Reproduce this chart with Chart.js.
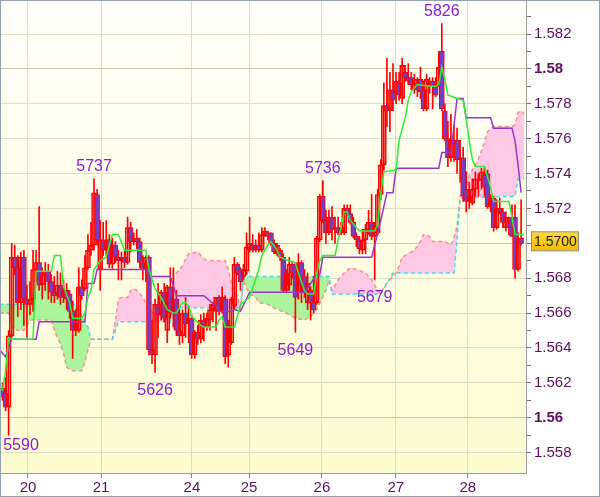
<!DOCTYPE html>
<html>
<head>
<meta charset="utf-8">
<script src="https://cdn.jsdelivr.net/npm/chart.js@4.4.0/dist/chart.umd.min.js"></script>
<style>
  html, body { margin: 0; padding: 0; background: #fff; }
</style>
</head>
<body>
<canvas id="myChart" width="600" height="497"></canvas>
<script>
// hourly bars, index 0 = first bar on the left
const openP = [
  1.5617,1.5614,1.5606,1.5647,1.5692,1.5686,1.5666,1.5692,1.5668,1.5665,
  1.5668,1.5685,1.5689,1.5676,1.5682,1.5684,1.5678,1.5672,1.5670,1.5676,
  1.5669,1.5673,1.5671,1.5661,1.5650,1.5650,1.5675,1.5674,1.5686,1.5696,
  1.5699,1.5728,1.5685,1.5702,1.5696,1.5702,1.5688,1.5699,1.5692,1.5690,
  1.5692,1.5689,1.5709,1.5701,1.5703,1.5701,1.5689,1.5685,1.5692,1.5639,
  1.5636,1.5665,1.5659,1.5672,1.5650,1.5675,1.5660,1.5668,1.5650,1.5647,
  1.5660,1.5654,1.5657,1.5636,1.5649,1.5645,1.5656,1.5652,1.5656,1.5662,
  1.5661,1.5669,1.5661,1.5668,1.5636,1.5643,1.5664,1.5688,1.5685,1.5681,
  1.5684,1.5696,1.5699,1.5696,1.5699,1.5696,1.5705,1.5706,1.5706,1.5700,
  1.5694,1.5696,1.5692,1.5673,1.5676,1.5688,1.5688,1.5672,1.5689,1.5681,
  1.5666,1.5673,1.5666,1.5666,1.5702,1.5727,1.5713,1.5706,1.5715,1.5708,
  1.5709,1.5706,1.5706,1.5720,1.5717,1.5712,1.5704,1.5702,1.5696,1.5702,
  1.5706,1.5712,1.5704,1.5706,1.5728,1.5745,1.5779,1.5776,1.5788,1.5786,
  1.5792,1.5783,1.5798,1.5795,1.5795,1.5788,1.5792,1.5794,1.5788,1.5777,
  1.5791,1.5793,1.5791,1.5790,1.5810,1.5776,1.5760,1.5749,1.5759,1.5759,
  1.5748,1.5749,1.5731,1.5724,1.5723,1.5731,1.5737,1.5736,1.5739,1.5740,
  1.5721,1.5726,1.5709,1.5720,1.5718,1.5709,1.5712,1.5715,1.5715,1.5685,
  1.5703
];
const highP = [
  1.5620,1.5623,1.5650,1.5700,1.5699,1.5693,1.5695,1.5696,1.5676,1.5678,
  1.5696,1.5696,1.5721,1.5686,1.5689,1.5688,1.5682,1.5681,1.5684,1.5683,
  1.5679,1.5677,1.5673,1.5667,1.5662,1.5686,1.5679,1.5693,1.5705,1.5712,
  1.5737,1.5731,1.5713,1.5712,1.5713,1.5705,1.5703,1.5701,1.5696,1.5695,
  1.5696,1.5715,1.5712,1.5706,1.5708,1.5703,1.5693,1.5693,1.5693,1.5656,
  1.5668,1.5677,1.5673,1.5677,1.5676,1.5686,1.5686,1.5673,1.5662,1.5662,
  1.5669,1.5664,1.5659,1.5650,1.5653,1.5659,1.5660,1.5660,1.5665,1.5666,
  1.5669,1.5670,1.5675,1.5670,1.5656,1.5669,1.5692,1.5689,1.5686,1.5688,
  1.5706,1.5715,1.5705,1.5702,1.5706,1.5709,1.5709,1.5707,1.5706,1.5702,
  1.5700,1.5697,1.5694,1.5685,1.5692,1.5689,1.5689,1.5694,1.5690,1.5685,
  1.5683,1.5675,1.5681,1.5704,1.5728,1.5736,1.5719,1.5719,1.5721,1.5715,
  1.5715,1.5712,1.5722,1.5722,1.5722,1.5715,1.5706,1.5704,1.5708,1.5711,
  1.5719,1.5728,1.5712,1.5731,1.5748,1.5792,1.5806,1.5798,1.5803,1.5798,
  1.5798,1.5806,1.5802,1.5803,1.5798,1.5797,1.5795,1.5801,1.5793,1.5797,
  1.5795,1.5795,1.5795,1.5810,1.5826,1.5780,1.5770,1.5774,1.5768,1.5766,
  1.5759,1.5755,1.5741,1.5735,1.5737,1.5741,1.5740,1.5743,1.5743,1.5742,
  1.5728,1.5727,1.5725,1.5726,1.5720,1.5718,1.5715,1.5722,1.5722,1.5706,
  1.5725
];
const lowP = [
  1.5610,1.5604,1.5590,1.5646,1.5682,1.5658,1.5662,1.5653,1.5646,1.5659,
  1.5661,1.5678,1.5673,1.5668,1.5673,1.5668,1.5666,1.5666,1.5668,1.5665,
  1.5666,1.5662,1.5657,1.5634,1.5647,1.5649,1.5668,1.5673,1.5685,1.5693,
  1.5696,1.5699,1.5673,1.5693,1.5693,1.5686,1.5685,1.5689,1.5679,1.5679,
  1.5686,1.5688,1.5695,1.5699,1.5697,1.5686,1.5679,1.5678,1.5636,1.5631,
  1.5626,1.5646,1.5656,1.5655,1.5643,1.5657,1.5652,1.5647,1.5642,1.5643,
  1.5646,1.5643,1.5634,1.5634,1.5642,1.5643,1.5644,1.5650,1.5650,1.5655,
  1.5650,1.5659,1.5660,1.5631,1.5629,1.5642,1.5662,1.5682,1.5673,1.5679,
  1.5682,1.5695,1.5695,1.5695,1.5695,1.5695,1.5704,1.5702,1.5699,1.5694,
  1.5693,1.5690,1.5672,1.5672,1.5673,1.5680,1.5649,1.5668,1.5666,1.5669,
  1.5662,1.5656,1.5660,1.5665,1.5701,1.5712,1.5700,1.5705,1.5702,1.5700,
  1.5705,1.5705,1.5705,1.5716,1.5711,1.5703,1.5698,1.5694,1.5694,1.5694,
  1.5705,1.5702,1.5679,1.5705,1.5725,1.5742,1.5767,1.5764,1.5776,1.5780,
  1.5782,1.5780,1.5793,1.5791,1.5788,1.5786,1.5784,1.5783,1.5776,1.5776,
  1.5786,1.5777,1.5784,1.5790,1.5776,1.5759,1.5744,1.5747,1.5747,1.5740,
  1.5735,1.5724,1.5718,1.5720,1.5722,1.5727,1.5727,1.5731,1.5727,1.5720,
  1.5718,1.5707,1.5708,1.5717,1.5709,1.5707,1.5705,1.5704,1.5680,1.5684,
  1.5699
];
const closeP = [
  1.5612,1.5606,1.5647,1.5692,1.5686,1.5666,1.5692,1.5668,1.5665,1.5668,
  1.5685,1.5689,1.5676,1.5682,1.5684,1.5678,1.5672,1.5670,1.5676,1.5669,
  1.5673,1.5668,1.5661,1.5650,1.5656,1.5675,1.5670,1.5686,1.5696,1.5699,
  1.5729,1.5702,1.5702,1.5696,1.5702,1.5688,1.5699,1.5692,1.5690,1.5692,
  1.5689,1.5709,1.5701,1.5703,1.5701,1.5689,1.5685,1.5692,1.5639,1.5636,
  1.5665,1.5659,1.5672,1.5657,1.5675,1.5660,1.5668,1.5650,1.5647,1.5660,
  1.5654,1.5657,1.5636,1.5649,1.5645,1.5656,1.5652,1.5657,1.5662,1.5665,
  1.5669,1.5661,1.5669,1.5635,1.5653,1.5668,1.5688,1.5683,1.5678,1.5685,
  1.5698,1.5700,1.5696,1.5699,1.5696,1.5705,1.5707,1.5704,1.5700,1.5695,
  1.5699,1.5692,1.5673,1.5683,1.5688,1.5683,1.5669,1.5689,1.5676,1.5672,
  1.5677,1.5666,1.5662,1.5703,1.5727,1.5713,1.5706,1.5715,1.5708,1.5709,
  1.5706,1.5709,1.5720,1.5717,1.5712,1.5704,1.5702,1.5697,1.5702,1.5708,
  1.5712,1.5704,1.5710,1.5728,1.5745,1.5779,1.5776,1.5788,1.5782,1.5793,
  1.5785,1.5802,1.5795,1.5793,1.5791,1.5794,1.5788,1.5787,1.5777,1.5794,
  1.5793,1.5790,1.5785,1.5801,1.5777,1.5760,1.5749,1.5759,1.5757,1.5748,
  1.5749,1.5727,1.5724,1.5727,1.5731,1.5737,1.5736,1.5741,1.5732,1.5721,
  1.5726,1.5709,1.5720,1.5718,1.5712,1.5715,1.5709,1.5704,1.5685,1.5703,
  1.5700
];

// indicator lines as [bar index, price] turning points
const tenkan = [
  [-1,1.5616],[0,1.5616],[1,1.5627],[2,1.5646],[3,1.5645],[10,1.5645],[11,1.5684],[16,1.5684],
  [17,1.5693],[19,1.5693],[20,1.5675],[22,1.5666],[23,1.5657],[26,1.5657],[27,1.5660],[28,1.5669],
  [29,1.5673],[30,1.5685],[32,1.5690],[34,1.5692],[35,1.5699],[36,1.5705],[38,1.5705],[40,1.5696],
  [47,1.5696],[48,1.5685],[50,1.5674],[52,1.5669],[54,1.5662],[56,1.5660],[57,1.5660],[59,1.5666],
  [60,1.5666],[61,1.5664],[62,1.5658],[65,1.5653],[66,1.5652],[70,1.5652],[71,1.5656],[72,1.5658],
  [73,1.5652],[76,1.5652],[78,1.5665],[81,1.5669],[84,1.5685],[85,1.5693],[87,1.5699],[88,1.5701],
  [90,1.5696],[91,1.5692],[94,1.5690],[96,1.5689],[97,1.5683],[99,1.5673],[100,1.5671],[102,1.5671],
  [103,1.5683],[104,1.5690],[105,1.5693],[109,1.5693],[110,1.5702],[111,1.5709],[112,1.5718],[113,1.5718],
  [114,1.5713],[116,1.5709],[117,1.5707],[122,1.5707],[123,1.5711],[124,1.5729],[125,1.5741],[129,1.5742],
  [130,1.5759],[132,1.5772],[133,1.5782],[134,1.5787],[136,1.5791],[140,1.5790],[142,1.5790],[143,1.5791],
  [144,1.5801],[145,1.5794],[146,1.5785],[149,1.5783],[151,1.5782],[152,1.5771],[153,1.5759],[154,1.5748],
  [155,1.5744],[158,1.5744],[160,1.5732],[161,1.5724],[166,1.5724],[167,1.5715],[168,1.5705],[171,1.5705]
];
const kijun = [
  [-1,1.5639],[1,1.5635],[3,1.5645],[11,1.5645],[12,1.5655],[27,1.5655],[28,1.5677],[30,1.5677],
  [31,1.5685],[47,1.5685],[49,1.5681],[55,1.5681],[57,1.5670],[66,1.5670],[70,1.5664],[71,1.5661],
  [75,1.5661],[76,1.5662],[78,1.5661],[81,1.5672],[99,1.5672],[103,1.5682],[104,1.5682],[105,1.5692],
  [121,1.5692],[122,1.5699],[124,1.5713],[126,1.5729],[128,1.5729],[129,1.5743],[143,1.5743],[144,1.5752],
  [147,1.5752],[149,1.5783],[151,1.5783],[152,1.5772],[160,1.5772],[161,1.5766],[167,1.5766],[168,1.5759],
  [169,1.5745],[170,1.5729]
];
const spanA = [
  [-1,1.5660],[2,1.5660],[3,1.5652],[5,1.5650],[7,1.5650],[9,1.5656],[16,1.5656],[17,1.5650],
  [19,1.5642],[20,1.5637],[21,1.5629],[23,1.5627],[26,1.5627],[27,1.5632],[28,1.5639],[29,1.5645],
  [36,1.5645],[37,1.5656],[38,1.5668],[39,1.5669],[41,1.5669],[42,1.5673],[43,1.5674],[44,1.5673],
  [46,1.5669],[47,1.5666],[48,1.5662],[50,1.5659],[55,1.5659],[56,1.5681],[58,1.5685],[59,1.5687],
  [60,1.5691],[61,1.5694],[64,1.5695],[65,1.5693],[67,1.5690],[73,1.5690],[74,1.5685],[75,1.5677],
  [77,1.5670],[78,1.5663],[79,1.5678],[81,1.5671],[83,1.5669],[84,1.5666],[87,1.5665],[89,1.5663],
  [93,1.5660],[96,1.5657],[99,1.5656],[101,1.5658],[103,1.5662],[105,1.5669],[106,1.5673],[107,1.5679],
  [108,1.5673],[110,1.5679],[112,1.5683],[114,1.5686],[116,1.5685],[119,1.5683],[121,1.5679],[123,1.5673],
  [124,1.5671],[125,1.5675],[127,1.5679],[129,1.5683],[130,1.5687],[131,1.5692],[133,1.5694],[135,1.5696],
  [137,1.5701],[138,1.5705],[140,1.5704],[141,1.5701],[145,1.5701],[147,1.5699],[148,1.5703],[149,1.5710],
  [150,1.5727],[152,1.5731],[153,1.5739],[156,1.5748],[158,1.5758],[159,1.5764],[161,1.5767],[163,1.5767],
  [167,1.5767],[168,1.5768],[169,1.5775],[170,1.5776],[171,1.5774]
];
const spanB = [
  [-1,1.5665],[10,1.5665],[11,1.5677],[16,1.5677],[18,1.5673],[21,1.5669],[23,1.5666],[25,1.5662],
  [26,1.5658],[28,1.5652],[29,1.5645],[36,1.5645],[38,1.5655],[55,1.5655],[56,1.5663],[78,1.5663],
  [79,1.5681],[107,1.5681],[108,1.5671],[124,1.5671],[128,1.5683],[148,1.5683],[149,1.5702],[150,1.5726],
  [168,1.5727],[169,1.5737],[171,1.5737]
];

// swing highs / lows that carry a price label
const swings = [[2,'low'],[30,'high'],[50,'low'],[96,'low'],[105,'high'],[122,'low'],[144,'high']];

const dayPos = [8.35, 32.3, 62.1, 80.8, 104.7, 128.9, 152.5];
const dayLabels = ['20','21','24','25','26','27','28'];
const priceTicks = [1.558,1.560,1.562,1.564,1.566,1.568,1.570,1.572,1.574,1.576,1.578,1.580,1.582];

const yMin = 1.556832, yMax = 1.583892;
const axisFont = '"Liberation Sans", Arial, sans-serif';
const bearFill = '#7a3cc0';

const yTicks = [];
priceTicks.forEach(v => { yTicks.push(v); yTicks.push(+(v + 0.001).toFixed(3)); });

const pts = arr => arr.map(p => ({x: p[0], y: p[1]}));
const milli = v => Math.round(v * 1000);
const noPad = s => { s.paddingTop = 0; s.paddingBottom = 0; s.paddingLeft = 0; s.paddingRight = 0; };

const overlay = {
  id: 'overlay',
  beforeDraw(chart) {
    const {ctx, chartArea: a} = chart;
    ctx.save();
    ctx.fillStyle = '#ffffff';
    ctx.fillRect(0, 0, chart.width, chart.height);
    const g = ctx.createLinearGradient(0, a.top, 0, a.bottom);
    g.addColorStop(0, '#fffffb');
    g.addColorStop(1, '#fdfbcf');
    ctx.fillStyle = g;
    ctx.fillRect(a.left, a.top, a.right - a.left, a.bottom - a.top);
    ctx.restore();
  },
  afterDatasetsDraw(chart) {
    const {ctx, chartArea: a, scales: {x, y}} = chart;
    ctx.save();
    ctx.font = '16px "Liberation Sans", Arial, sans-serif';
    ctx.fillStyle = '#8a1fd0';
    ctx.textAlign = 'center';
    ctx.textBaseline = 'middle';
    swings.forEach(([i, kind]) => {
      const price = kind === 'high' ? highP[i] : lowP[i];
      const txt = String(Math.round(price * 10000)).slice(-4);
      const px = Math.min(Math.max(x.getPixelForValue(i), a.left + 20), a.right - 20);
      let py = y.getPixelForValue(price) + (kind === 'high' ? -12 : 18);
      py = Math.min(Math.max(py, a.top + 10), a.bottom - 27);
      ctx.fillText(txt, px, py);
    });
    ctx.restore();
  },
  afterDraw(chart) {
    const {ctx, chartArea: a, scales: {y}} = chart;
    const last = closeP[closeP.length - 1];
    const py = y.getPixelForValue(last);
    ctx.save();
    const g = ctx.createLinearGradient(0, py - 11, 0, py + 7);
    g.addColorStop(0, '#ffd83a');
    g.addColorStop(1, '#f2bc00');
    ctx.fillStyle = g;
    ctx.fillRect(a.right + 5.5, py - 11.5, 47, 19);
    ctx.strokeStyle = '#8c8c8c';
    ctx.lineWidth = 1;
    ctx.strokeRect(a.right + 5.5, py - 11.5, 47, 19);
    ctx.fillStyle = '#222222';
    ctx.font = '14px ' + axisFont;
    ctx.textAlign = 'left';
    ctx.textBaseline = 'middle';
    ctx.fillText(last.toFixed(4), a.right + 8, py - 1.5);
    ctx.strokeStyle = '#93a1ae';
    ctx.strokeRect(0.5, 0.5, chart.width - 1, chart.height - 1);
    ctx.restore();
  }
};

const data = {
  datasets: [
    {
      type: 'line', label: 'tenkan', data: pts(tenkan), order: 0,
      borderColor: '#30ee30', borderWidth: 1.5, pointRadius: 0, tension: 0
    },
    {
      type: 'line', label: 'kijun', data: pts(kijun), order: 1,
      borderColor: '#9a35c9', borderWidth: 1.5, pointRadius: 0, tension: 0
    },
    {
      type: 'bar', label: 'body', order: 2, grouped: false,
      data: openP.map((o, i) => ({x: i, y: [o, closeP[i]]})),
      backgroundColor: openP.map((o, i) => closeP[i] < o ? bearFill : 'rgba(0,0,0,0)'),
      borderColor: '#ff0000', borderWidth: 1, borderSkipped: false,
      barThickness: 5, minBarLength: 1
    },
    {
      type: 'bar', label: 'wick', order: 3, grouped: false,
      data: highP.map((h, i) => ({x: i, y: [lowP[i], h]})),
      backgroundColor: '#ff0000', borderWidth: 0, barThickness: 1
    },
    {
      type: 'line', label: 'spanB', data: pts(spanB), order: 4,
      borderColor: '#3fdcee', borderWidth: 1.5, borderDash: [4, 3], pointRadius: 0, tension: 0
    },
    {
      type: 'line', label: 'spanA', data: pts(spanA), order: 5,
      borderColor: '#f29090', borderWidth: 1.5, borderDash: [4, 3], pointRadius: 0, tension: 0,
      fill: {target: 4, above: '#ffc8e4', below: '#abf49b'}
    }
  ]
};

const config = {
  type: 'bar',
  data,
  options: {
    responsive: false,
    animation: false,
    events: [],
    layout: {padding: {left: 1, top: 1, right: 1, bottom: 1}},
    plugins: {legend: {display: false}, tooltip: {enabled: false}},
    scales: {
      x: {
        type: 'linear', min: -0.5, max: 171.6, offset: false,
        afterBuildTicks: s => { s.ticks = dayPos.map(v => ({value: v})); },
        afterFit: s => { s.height = 23; noPad(s); },
        border: {display: true, color: '#9c9c9c'},
        grid: {offset: false, color: '#dcdcc4', tickColor: '#8a7a8a', tickLength: 5},
        ticks: {
          autoSkip: false, maxRotation: 0, padding: 1, color: '#5b0f5b',
          font: {family: axisFont, size: 15},
          callback: (v, i) => dayLabels[i]
        }
      },
      y: {
        position: 'right', min: yMin, max: yMax,
        afterBuildTicks: s => { s.ticks = yTicks.map(v => ({value: v})); },
        afterFit: s => { s.width = 73; noPad(s); },
        border: {display: true, color: '#9c9c9c'},
        grid: {
          color: c => {
            const m = milli(c.tick.value);
            if (m % 2) return 'rgba(0,0,0,0)';
            return m % 10 === 0 ? '#cbcbab' : '#deddc6';
          },
          tickColor: '#7a6a7a', tickLength: 5
        },
        ticks: {
          autoSkip: false, padding: 3, color: '#5b0f5b',
          font: c => ({family: axisFont, size: 15,
            weight: c.tick && milli(c.tick.value) % 10 === 0 ? 'bold' : 'normal'}),
          callback: v => {
            const m = milli(v);
            if (m % 2) return '';
            return m % 10 === 0 ? v.toFixed(2) : v.toFixed(3);
          }
        }
      }
    }
  },
  plugins: [overlay]
};

const myChart = new Chart(document.getElementById('myChart'), config);
</script>
</body>
</html>
